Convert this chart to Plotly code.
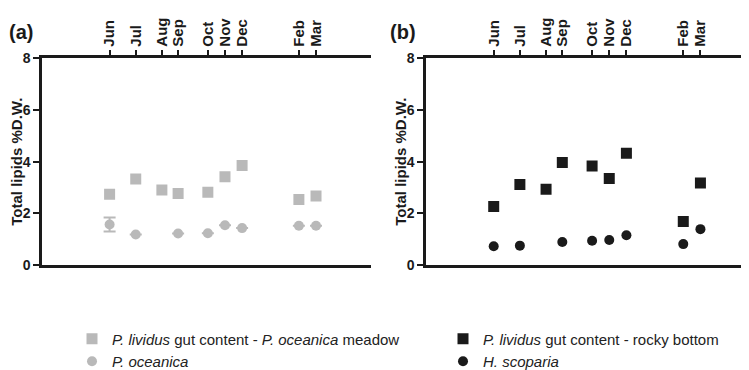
import plotly.graph_objects as go

# ---- data ----
months = ["Jun", "Jul", "Aug", "Sep", "Oct", "Nov", "Dec", "Feb", "Mar"]
sampling_day = [75, 104, 133, 151, 184, 203, 222, 285, 304]

gut_meadow = [2.74, 3.33, 2.91, 2.77, 2.82, 3.42, 3.85, 2.54, 2.67]
p_oceanica = [1.57, 1.18, None, 1.22, 1.23, 1.54, 1.43, 1.52, 1.52]
p_oceanica_err = [0.27, 0, 0, 0, 0, 0, 0, 0, 0]

gut_rocky = [2.27, 3.12, 2.93, 3.97, 3.83, 3.35, 4.33, 1.69, 3.18]
h_scoparia = [0.73, 0.75, None, 0.89, 0.94, 0.97, 1.15, 0.81, 1.39]

y_ticks = [0, 2, 4, 6, 8]

GRAY = "#b9b9b9"
BLACK = "#1a1a1a"
FONT = "Arial, Liberation Sans, sans-serif"

W, H = 749, 370

fig = go.Figure()

fig.add_trace(go.Scatter(
    x=sampling_day, y=gut_meadow, mode="markers",
    marker=dict(symbol="square", size=11, color=GRAY),
    name="<i>P. lividus</i> gut content - <i>P. oceanica</i> meadow",
    xaxis="x", yaxis="y", legend="legend"))
fig.add_trace(go.Scatter(
    x=sampling_day, y=p_oceanica, mode="markers",
    marker=dict(symbol="circle", size=10, color=GRAY),
    error_y=dict(type="data", array=p_oceanica_err, color=GRAY, thickness=2, width=6),
    name="<i>P. oceanica</i>",
    xaxis="x", yaxis="y", legend="legend"))
fig.add_trace(go.Scatter(
    x=sampling_day, y=gut_rocky, mode="markers",
    marker=dict(symbol="square", size=11, color=BLACK),
    name="<i>P. lividus</i> gut content - rocky bottom",
    xaxis="x2", yaxis="y2", legend="legend2"))
fig.add_trace(go.Scatter(
    x=sampling_day, y=h_scoparia, mode="markers",
    marker=dict(symbol="circle", size=10, color=BLACK),
    name="<i>H. scoparia</i>",
    xaxis="x2", yaxis="y2", legend="legend2"))

ydom = [1 - 264 / H, 1 - 45 / H]
xdom_a = [34 / W, 363 / W]
xdom_b = [418 / W, 747.5 / W]

xaxis_common = dict(
    range=[0, 365], side="top", tickmode="array", tickvals=sampling_day, ticktext=months,
    tickangle=-90, ticks="outside", ticklen=6, tickwidth=2, tickcolor=BLACK,
    showline=True, linewidth=2.5, linecolor=BLACK, mirror=True,
    showgrid=False, zeroline=False,
    tickfont=dict(family=FONT, size=15, color=BLACK, weight="bold"),
)
yaxis_common = dict(
    range=[0, 8], tickmode="array", tickvals=y_ticks,
    ticks="outside", ticklen=6, tickwidth=2, tickcolor=BLACK,
    showline=True, linewidth=2.5, linecolor=BLACK, mirror=False,
    showgrid=False, zeroline=False, domain=ydom,
    tickfont=dict(family=FONT, size=14, color=BLACK, weight="bold"),
)

fig.update_layout(
    width=W, height=H, margin=dict(l=0, r=0, t=0, b=0),
    paper_bgcolor="white", plot_bgcolor="white",
    xaxis=dict(domain=xdom_a, anchor="y", **xaxis_common),
    yaxis=dict(anchor="x", **yaxis_common),
    xaxis2=dict(domain=xdom_b, anchor="y2", **xaxis_common),
    yaxis2=dict(anchor="x2", **yaxis_common),
    legend=dict(x=64 / W, y=1 - 325 / H, xanchor="left", yanchor="top",
                font=dict(family=FONT, size=15, color="#222"), tracegroupgap=0,
                bgcolor="rgba(0,0,0,0)", itemclick=False),
    legend2=dict(x=435 / W, y=1 - 325 / H, xanchor="left", yanchor="top",
                 font=dict(family=FONT, size=15, color="#222"), tracegroupgap=0,
                 bgcolor="rgba(0,0,0,0)", itemclick=False),
    showlegend=True,
)

ann_font = dict(family=FONT, size=15, color=BLACK, weight="bold")
for xpx in (9, 393):
    fig.add_annotation(text="Total lipids %D.W.", textangle=-90, font=ann_font,
                       xref="paper", yref="paper", x=xpx / W, y=(ydom[0] + ydom[1]) / 2,
                       xanchor="center", yanchor="middle", showarrow=False)
for lbl, xpx in (("(a)", 13), ("(b)", 395)):
    fig.add_annotation(text=lbl, font=dict(family=FONT, size=20, color=BLACK, weight="bold"),
                       xref="paper", yref="paper", x=xpx / W, y=1 - 17 / H,
                       xanchor="center", yanchor="middle", showarrow=False)

fig.write_html("out.html")
